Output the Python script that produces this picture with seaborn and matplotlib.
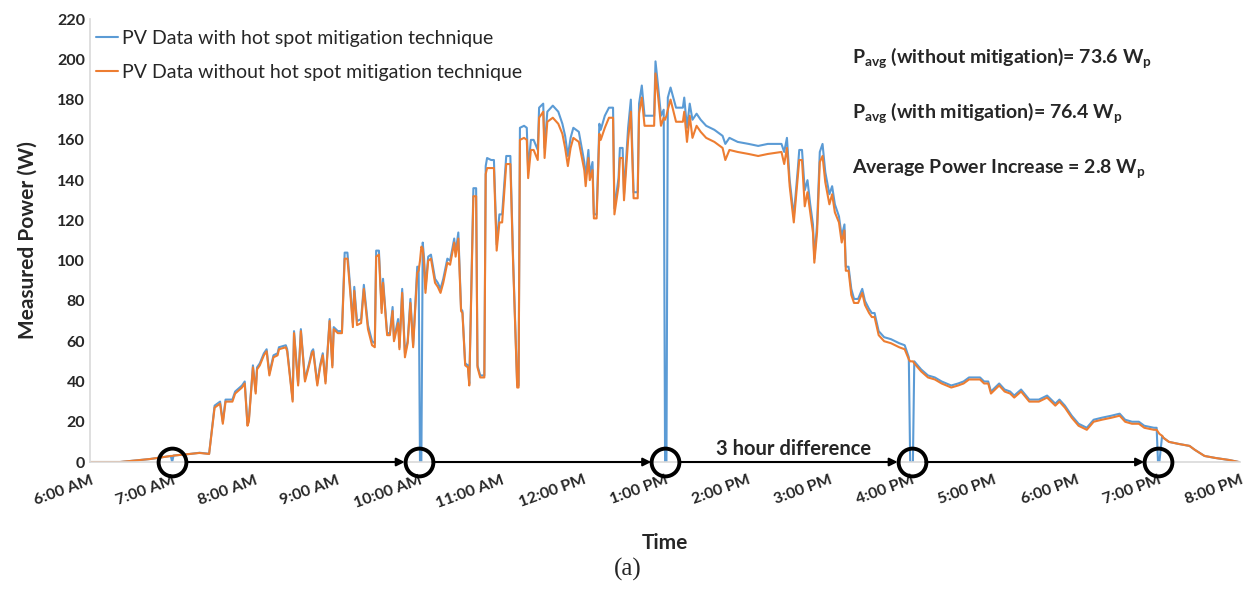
import pandas as pd
import seaborn as sns
import matplotlib.pyplot as plt

# measured PV power (time, W)
times = [
    "6:00", "6:22", "6:44", "6:59", "7:00", "7:01", "7:13", "7:20", "7:27", "7:31",
    "7:35", "7:37", "7:39", "7:44", "7:46", "7:51", "7:53", "7:55", "7:56", "7:59",
    "8:01", "8:02", "8:04", "8:07", "8:09", "8:11", "8:14", "8:17", "8:18", "8:23",
    "8:24", "8:28", "8:29", "8:32", "8:34", "8:37", "8:40", "8:42", "8:43", "8:46",
    "8:48", "8:50", "8:52", "8:55", "8:57", "8:58", "9:01", "9:04", "9:06", "9:08",
    "9:10", "9:12", "9:13", "9:15", "9:18", "9:20", "9:23", "9:26", "9:28", "9:29",
    "9:31", "9:33", "9:34", "9:37", "9:39", "9:41", "9:42", "9:45", "9:46", "9:48",
    "9:50", "9:52", "9:54", "9:56", "9:59", "10:00", "10:01", "10:02", "10:03", "10:04",
    "10:05", "10:07", "10:09", "10:12", "10:14", "10:16", "10:18", "10:21", "10:23", "10:26",
    "10:27", "10:29", "10:31", "10:32", "10:34", "10:36", "10:37", "10:40", "10:42", "10:43",
    "10:45", "10:48", "10:49", "10:50", "10:53", "10:55", "10:57", "10:59", "11:01", "11:04",
    "11:07", "11:09", "11:12", "11:13", "11:14", "11:17", "11:19", "11:20", "11:22", "11:24",
    "11:27", "11:28", "11:31", "11:32", "11:34", "11:38", "11:42", "11:45", "11:47", "11:49",
    "11:51", "11:53", "11:57", "12:01", "12:02", "12:04", "12:05", "12:07", "12:08", "12:10",
    "12:12", "12:13", "12:16", "12:19", "12:22", "12:23", "12:26", "12:27", "12:29", "12:30",
    "12:33", "12:35", "12:37", "12:40", "12:41", "12:43", "12:45", "12:52", "12:53", "12:55",
    "12:57", "12:59", "13:00", "13:01", "13:02", "13:04", "13:08", "13:13", "13:14", "13:16",
    "13:18", "13:20", "13:23", "13:26", "13:30", "13:36", "13:42", "13:44", "13:47", "13:53",
    "14:01", "14:08", "14:15", "14:25", "14:27", "14:29", "14:31", "14:34", "14:37", "14:38",
    "14:40", "14:42", "14:44", "14:46", "14:48", "14:49", "14:51", "14:53", "14:55", "14:57",
    "15:00", "15:02", "15:04", "15:07", "15:09", "15:11", "15:12", "15:14", "15:16", "15:18",
    "15:21", "15:24", "15:26", "15:29", "15:31", "15:33", "15:36", "15:40", "15:45", "15:51",
    "15:55", "15:58", "15:59", "16:00", "16:01", "16:02", "16:07", "16:12", "16:17", "16:22",
    "16:29", "16:34", "16:38", "16:42", "16:50", "16:53", "16:56", "16:58", "17:01", "17:04",
    "17:08", "17:12", "17:15", "17:20", "17:26", "17:33", "17:39", "17:42", "17:45", "17:48",
    "17:52", "17:57", "18:02", "18:08", "18:13", "18:19", "18:26", "18:32", "18:36", "18:41",
    "18:46", "18:50", "18:57", "18:59", "19:00", "19:01", "19:03", "19:04", "19:08", "19:15",
    "19:23", "19:27", "19:34", "19:42", "19:52", "19:59",
]

without_mitigation = [
    0, 0, 1.5, 3, 3, 3.2, 4, 4.5, 4, 27,
    29, 19, 30, 30, 34, 37, 39, 18, 20, 47,
    34, 46, 48, 53, 55, 43, 52, 53, 56, 57,
    55, 30, 64, 38, 65, 40, 48, 54, 55, 38,
    47, 53, 39, 70, 47, 66, 64, 64, 101, 101,
    85, 67, 85, 68, 69, 86, 66, 58, 57, 102,
    103, 74, 89, 63, 63, 75, 60, 69, 56, 84,
    52, 59, 79, 57, 94, 95, 100, 107, 106, 98,
    84, 100, 101, 89, 87, 84, 89, 99, 98, 109,
    102, 111, 75, 74, 48, 47, 38, 132, 132, 47,
    42, 42, 143, 146, 146, 146, 105, 119, 119, 148,
    148, 99, 37, 37, 160, 161, 160, 141, 155, 155,
    150, 171, 174, 151, 169, 171, 168, 163, 156, 147,
    156, 161, 159, 145, 137, 151, 140, 145, 121, 121,
    163, 160, 166, 171, 171, 123, 137, 151, 151, 130,
    160, 174, 131, 131, 173, 181, 167, 167, 193, 181,
    167, 171, 170, 172, 175, 180, 169, 169, 174, 159,
    172, 161, 167, 164, 161, 159, 156, 150, 155, 154,
    153, 152, 153, 154, 148, 156, 137, 119, 142, 150,
    150, 127, 134, 124, 114, 99, 114, 149, 152, 139,
    128, 133, 124, 119, 109, 115, 95, 95, 83, 79,
    79, 84, 78, 74, 72, 72, 63, 60, 59, 57,
    56, 51, 50, 50, 50, 49, 45, 42, 41, 39,
    37, 38, 39, 41, 41, 39, 39, 34, 36, 38,
    35, 34, 32, 35, 30, 30, 32, 30, 28, 30,
    27, 22, 18, 16, 20, 21, 22, 23, 20, 19,
    19, 17, 16, 16, 15, 14, 13, 12, 10, 9,
    8, 6, 3, 2, 1, 0,
]

with_mitigation = [
    0, 0, 1.5, 3, 0, 3.2, 4, 4.6, 4.1, 28,
    30, 20, 31, 31, 35, 38, 40, 19, 21, 48,
    35, 47, 49, 54, 56, 44, 53, 54, 57, 58,
    56, 31, 65, 39, 66, 41, 49, 55, 56, 39,
    48, 54, 40, 71, 48, 67, 65, 65, 104, 104,
    87, 69, 87, 70, 71, 88, 68, 60, 59, 105,
    105, 76, 91, 64, 64, 77, 61, 71, 57, 86,
    54, 60, 81, 58, 97, 97, 0, 0, 109, 101,
    86, 102, 103, 91, 89, 86, 91, 101, 100, 111,
    104, 114, 76, 75, 49, 48, 39, 136, 136, 48,
    43, 43, 147, 151, 150, 150, 108, 123, 123, 152,
    152, 101, 38, 38, 166, 167, 166, 145, 160, 160,
    155, 176, 178, 156, 174, 177, 174, 168, 162, 152,
    161, 166, 164, 149, 141, 155, 143, 149, 123, 123,
    168, 165, 172, 176, 176, 126, 141, 156, 156, 133,
    166, 180, 134, 134, 178, 187, 172, 172, 199, 186,
    172, 175, 0, 0, 181, 186, 176, 176, 181, 166,
    178, 170, 173, 170, 167, 165, 162, 158, 161, 159,
    158, 157, 158, 158, 154, 161, 140, 122, 146, 155,
    155, 135, 140, 128, 118, 101, 118, 154, 158, 144,
    133, 137, 128, 122, 112, 118, 97, 97, 86, 81,
    81, 86, 80, 76, 74, 74, 65, 62, 61, 59,
    58, 52, 0, 0, 0, 50, 46, 43, 42, 40,
    38, 39, 40, 42, 42, 40, 40, 35, 37, 39,
    36, 35, 33, 36, 31, 31, 33, 31, 29, 31,
    28, 23, 19, 17, 21, 22, 23, 24, 21, 20,
    20, 18, 17, 17, 0, 0, 13, 12, 10, 9,
    8, 6, 3, 2, 1, 0,
]

event_times = ["7:00", "10:00", "13:00", "16:00", "19:00"]

hour_ticks = list(range(6, 21))
hour_labels = ["6:00 AM", "7:00 AM", "8:00 AM", "9:00 AM", "10:00 AM", "11:00 AM",
               "12:00 PM", "1:00 PM", "2:00 PM", "3:00 PM", "4:00 PM", "5:00 PM",
               "6:00 PM", "7:00 PM", "8:00 PM"]

label_with = "PV Data with hot spot mitigation technique"
label_without = "PV Data without hot spot mitigation technique"

avg_notes = [
    r"$\mathbf{P_{avg}}$ (without mitigation)= 73.6 $\mathbf{W_p}$",
    r"$\mathbf{P_{avg}}$ (with mitigation)= 76.4 $\mathbf{W_p}$",
    r"Average Power Increase = 2.8 $\mathbf{W_p}$",
]


def to_hours(ts):
    return (pd.to_timedelta(pd.Series(ts) + ":00").dt.total_seconds() / 3600).to_numpy()


sns.set_style("white")
plt.rcParams["font.family"] = ["Lato", "DejaVu Sans"]
plt.rcParams["mathtext.fontset"] = "custom"
plt.rcParams["mathtext.rm"] = "Lato"
plt.rcParams["mathtext.bf"] = "Lato:bold"
plt.rcParams["mathtext.it"] = "Lato:italic"

hours = to_hours(times)
df = pd.DataFrame({"hour": hours, label_with: with_mitigation, label_without: without_mitigation})
df = df.melt(id_vars="hour", var_name="series", value_name="power")

fig = plt.figure(figsize=(12.57, 5.89), dpi=100)
ax = fig.add_axes([0.0716, 0.2156, 0.915, 0.752])

sns.lineplot(data=df, x="hour", y="power", hue="series",
             hue_order=[label_with, label_without],
             palette=["#5B9BD5", "#ED7D31"], estimator=None,
             linewidth=1.5, ax=ax)

ax.set_xlim(6, 20)
ax.set_ylim(0, 220)
ax.set_yticks(range(0, 221, 20))
ax.set_xticks(hour_ticks)
ax.set_xticklabels(hour_labels, rotation=20, ha="right", rotation_mode="anchor")
ax.tick_params(axis="both", length=0, labelsize=11.5)
ax.tick_params(axis="x", pad=8)
for lab in ax.get_xticklabels() + ax.get_yticklabels():
    lab.set_fontweight("bold")

for side in ["top", "right"]:
    ax.spines[side].set_visible(False)
for side in ["left", "bottom"]:
    ax.spines[side].set_color("#D9D9D9")
    ax.spines[side].set_linewidth(1.2)

ax.set_xlabel("Time", fontsize=15, fontweight="bold", labelpad=16)
ax.set_ylabel("Measured Power (W)", fontsize=15, fontweight="bold", labelpad=14)

ax.legend(loc="upper left", bbox_to_anchor=(0.005, 0.976), frameon=False,
          fontsize=14, handlelength=1.15, handletextpad=0.2, labelspacing=0.9,
          borderpad=0, borderaxespad=0)

# circles around the blue drop-outs and arrows between them
ev = to_hours(event_times)
ax.plot(ev, [0] * len(ev), "o", ms=20, mfc="none", mec="black", mew=2.8,
        zorder=5, clip_on=False)
for a, b in zip(ev[:-1], ev[1:]):
    ax.annotate("", xy=(b, 0), xytext=(a, 0),
                arrowprops=dict(arrowstyle="-|>", color="black", lw=1.5,
                                shrinkA=10, shrinkB=10, mutation_scale=12),
                annotation_clip=False)
ax.text(13.62, 3.5, "3 hour difference", fontsize=14.5, fontweight="bold",
        ha="left", va="baseline")

for y, note in zip([198, 171, 143.5], avg_notes):
    ax.text(15.27, y, note, fontsize=14, fontweight="bold", ha="left", va="baseline")

fig.text(0.4996, 0.022, "(a)", fontsize=18, family="Liberation Serif", ha="center")

fig.savefig("out.png", dpi=100)
